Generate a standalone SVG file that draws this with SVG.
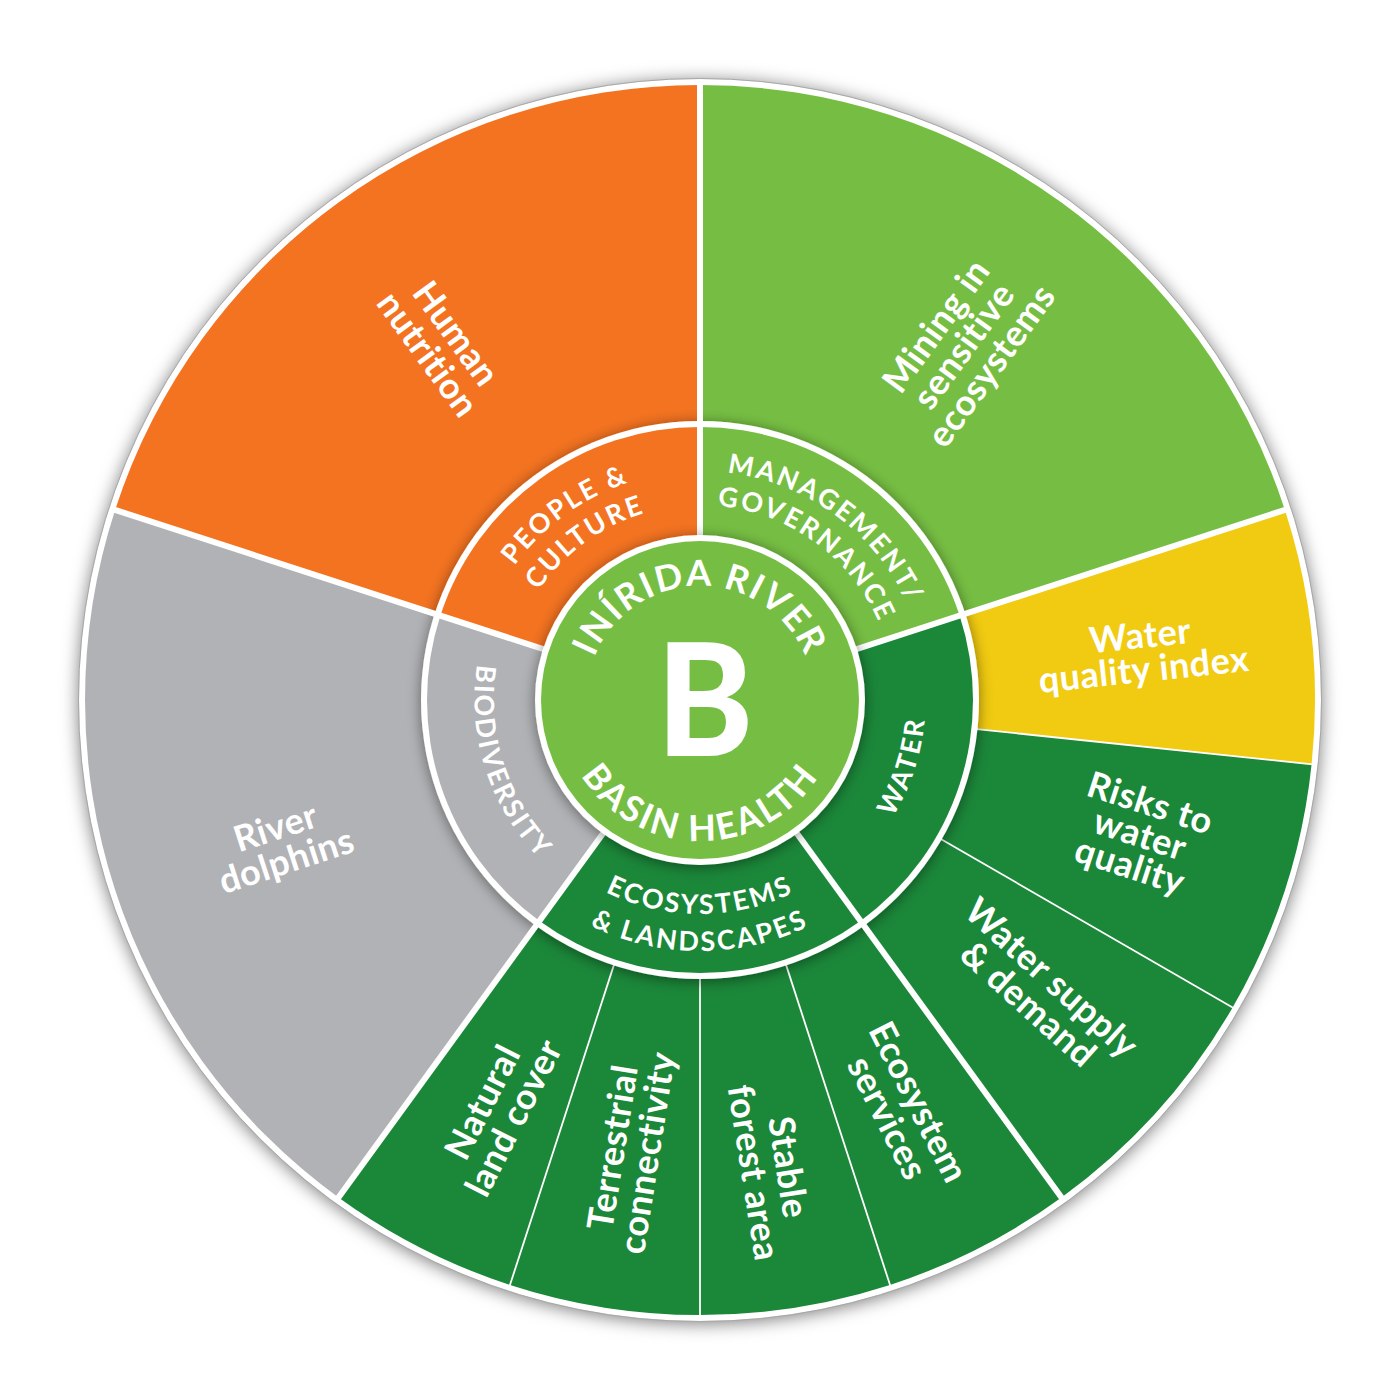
<svg xmlns="http://www.w3.org/2000/svg" width="1400" height="1400" viewBox="0 0 1400 1400">
<defs>
<style>
.seg{font-family:Lato,"Liberation Sans",sans-serif;font-weight:700;font-size:36px;fill:#fff;text-anchor:middle;letter-spacing:0.5px}
.ring{font-family:Lato,"Liberation Sans",sans-serif;font-weight:700;font-size:27px;fill:#fff;letter-spacing:2.4px}
.ctr{font-family:Lato,"Liberation Sans",sans-serif;font-weight:700;font-size:36px;fill:#fff}
.sep{stroke:#fff;stroke-width:6;stroke-linecap:butt}
.thin{stroke:#fff;stroke-width:1.8}
.orange{fill:#F37321}
.lgreen{fill:#76BE43}
.gray{fill:#B1B2B5}
.yellow{fill:#F1CB11}
.dgreen{fill:#1B8739}
</style>
<filter id="shOuter" x="-10%" y="-10%" width="120%" height="120%">
<feDropShadow dx="0" dy="2" stdDeviation="9" flood-color="#000" flood-opacity="0.55"/>
</filter>
<filter id="shRing" x="-20%" y="-20%" width="140%" height="140%">
<feDropShadow dx="0" dy="2" stdDeviation="7" flood-color="#000" flood-opacity="0.45"/>
</filter>
<path id="pPeople1" d="M514.7,834.6 A229,229 0 0,1 885.3,565.4"/>
<path id="pPeople2" d="M542.2,814.6 A195,195 0 0,1 857.8,585.4"/>
<path id="pMgmt1" d="M514.7,565.4 A229,229 0 0,1 885.3,834.6"/>
<path id="pMgmt2" d="M542.2,585.4 A195,195 0 0,1 857.8,814.6"/>
<path id="pWater" d="M629.9,915.9 A227,227 0 0,0 770.1,484.1"/>
<path id="pBio" d="M629.9,484.1 A227,227 0 0,0 770.1,915.9"/>
<path id="pEco1" d="M486,700 A214,214 0 0,0 914,700"/>
<path id="pEco2" d="M449,700 A251,251 0 0,0 951,700"/>
<path id="pTop" d="M586,700 A114,114 0 0,1 814,700"/>
<path id="pBot" d="M559,700 A141,141 0 0,0 841,700"/>
</defs>

<rect x="0" y="0" width="1400" height="1400" fill="#fff"/>

<g id="frame">
<circle cx="700" cy="700" r="621" fill="#fff" filter="url(#shOuter)"/>
<circle cx="700" cy="700" r="621.5" fill="none" stroke="#a8a8a8" stroke-width="1"/>
</g>

<g id="human-nutrition">
<path class="orange" d="M700,700 L115.1,510 A615,615 0 0,1 700,85 Z"/>
<text class="seg" transform="translate(442,344) rotate(54)"><tspan x="0" y="-5">Human</tspan><tspan x="0" y="30">nutrition</tspan></text>
</g>
<g id="mining">
<path class="lgreen" d="M700,700 L700,85 A615,615 0 0,1 1284.9,510 Z"/>
<text class="seg" transform="translate(964,346) rotate(-54)"><tspan x="0" y="-22">Mining in</tspan><tspan x="0" y="12">sensitive</tspan><tspan x="0" y="46">ecosystems</tspan></text>
</g>
<g id="water-quality-index">
<path class="yellow" d="M700,700 L1284.9,510 A615,615 0 0,1 1311.6,764.3 Z"/>
<text class="seg" transform="translate(1142,653) rotate(-6)"><tspan x="0" y="-5">Water</tspan><tspan x="0" y="29">quality index</tspan></text>
</g>
<g id="risks-water-quality">
<path class="dgreen" d="M700,700 L1311.6,764.3 A615,615 0 0,1 1232.6,1007.5 Z"/>
<text class="seg" transform="translate(1140,835) rotate(18)"><tspan x="0" y="-21">Risks to</tspan><tspan x="0" y="12">water</tspan><tspan x="0" y="45">quality</tspan></text>
</g>
<g id="water-supply-demand">
<path class="dgreen" d="M700,700 L1232.6,1007.5 A615,615 0 0,1 1061.5,1197.5 Z"/>
<text class="seg" transform="translate(1040,991) rotate(42)"><tspan x="0" y="-5">Water supply</tspan><tspan x="0" y="30">&amp; demand</tspan></text>
</g>
<g id="ecosystem-services">
<path class="dgreen" d="M700,700 L1061.5,1197.5 A615,615 0 0,1 890,1284.9 Z"/>
<text class="seg" transform="translate(903,1110) rotate(63)"><tspan x="0" y="-5">Ecosystem</tspan><tspan x="0" y="30">services</tspan></text>
</g>
<g id="stable-forest-area">
<path class="dgreen" d="M700,700 L890,1284.9 A615,615 0 0,1 700,1315 Z"/>
<text class="seg" transform="translate(771,1170) rotate(81)"><tspan x="0" y="-5">Stable</tspan><tspan x="0" y="30">forest area</tspan></text>
</g>
<g id="terrestrial-connectivity">
<path class="dgreen" d="M700,700 L700,1315 A615,615 0 0,1 510,1284.9 Z"/>
<text class="seg" transform="translate(630,1150) rotate(-81)"><tspan x="0" y="-5">Terrestrial</tspan><tspan x="0" y="30">connectivity</tspan></text>
</g>
<g id="natural-land-cover">
<path class="dgreen" d="M700,700 L510,1284.9 A615,615 0 0,1 338.5,1197.5 Z"/>
<text class="seg" transform="translate(498,1110) rotate(-63)"><tspan x="0" y="-5">Natural</tspan><tspan x="0" y="30">land cover</tspan></text>
</g>
<g id="river-dolphins">
<path class="gray" d="M700,700 L338.5,1197.5 A615,615 0 0,1 115.1,510 Z"/>
<text class="seg" transform="translate(281,844) rotate(-18)"><tspan x="0" y="-5">River</tspan><tspan x="0" y="30">dolphins</tspan></text>
</g>

<g id="outer-separators">
<line class="thin" x1="976.5" y1="729.1" x2="1312.6" y2="764.4"/>
<line class="thin" x1="940.8" y1="839" x2="1233.5" y2="1008"/>
<line class="thin" x1="785.9" y1="964.4" x2="890.3" y2="1285.8"/>
<line class="thin" x1="700" y1="978" x2="700" y2="1316"/>
<line class="thin" x1="614.1" y1="964.4" x2="509.7" y2="1285.8"/>
</g>

<g id="middle-ring">
<circle cx="700" cy="700" r="279" fill="#fff" filter="url(#shRing)"/>
<g id="people-culture">
<path class="orange" d="M700,700 L440.4,615.6 A273,273 0 0,1 700,427 Z"/>
<text class="ring"><textPath href="#pPeople1" startOffset="50%" text-anchor="middle">PEOPLE &amp;</textPath><textPath href="#pPeople2" startOffset="50%" text-anchor="middle">CULTURE</textPath></text>
</g>
<g id="management-governance">
<path class="lgreen" d="M700,700 L700,427 A273,273 0 0,1 959.6,615.6 Z"/>
<text class="ring"><textPath href="#pMgmt1" startOffset="50%" text-anchor="middle">MANAGEMENT/</textPath><textPath href="#pMgmt2" startOffset="50%" text-anchor="middle">GOVERNANCE</textPath></text>
</g>
<g id="water">
<path class="dgreen" d="M700,700 L959.6,615.6 A273,273 0 0,1 860.5,920.9 Z"/>
<text class="ring"><textPath href="#pWater" startOffset="50%" text-anchor="middle">WATER</textPath></text>
</g>
<g id="ecosystems-landscapes">
<path class="dgreen" d="M700,700 L860.5,920.9 A273,273 0 0,1 539.5,920.9 Z"/>
<text class="ring"><textPath href="#pEco1" startOffset="50%" text-anchor="middle">ECOSYSTEMS</textPath><textPath href="#pEco2" startOffset="50%" text-anchor="middle">&amp; LANDSCAPES</textPath></text>
</g>
<g id="biodiversity">
<path class="gray" d="M700,700 L539.5,920.9 A273,273 0 0,1 440.4,615.6 Z"/>
<text class="ring"><textPath href="#pBio" startOffset="50%" text-anchor="middle">BIODIVERSITY</textPath></text>
</g>
</g>

<g id="main-separators">
<line class="sep" x1="700" y1="700" x2="700" y2="80"/>
<line class="sep" x1="700" y1="700" x2="1289.6" y2="508.4"/>
<line class="sep" x1="700" y1="700" x2="1064.4" y2="1201.5"/>
<line class="sep" x1="700" y1="700" x2="335.6" y2="1201.5"/>
<line class="sep" x1="700" y1="700" x2="110.4" y2="508.4"/>
</g>

<g id="center">
<circle cx="700" cy="700" r="165" fill="#fff" filter="url(#shRing)"/>
<circle class="lgreen" cx="700" cy="700" r="159"/>
<text class="ctr" letter-spacing="2"><textPath href="#pTop" startOffset="50%" text-anchor="middle">INÍRIDA RIVER</textPath></text>
<text class="ctr" letter-spacing="2.5"><textPath href="#pBot" startOffset="50%" text-anchor="middle">BASIN HEALTH</textPath></text>
<text transform="translate(705,756) scale(0.93,1)" text-anchor="middle" font-family="Lato,'Liberation Sans',sans-serif" font-weight="900" font-size="157" fill="#fff">B</text>
</g>
</svg>
